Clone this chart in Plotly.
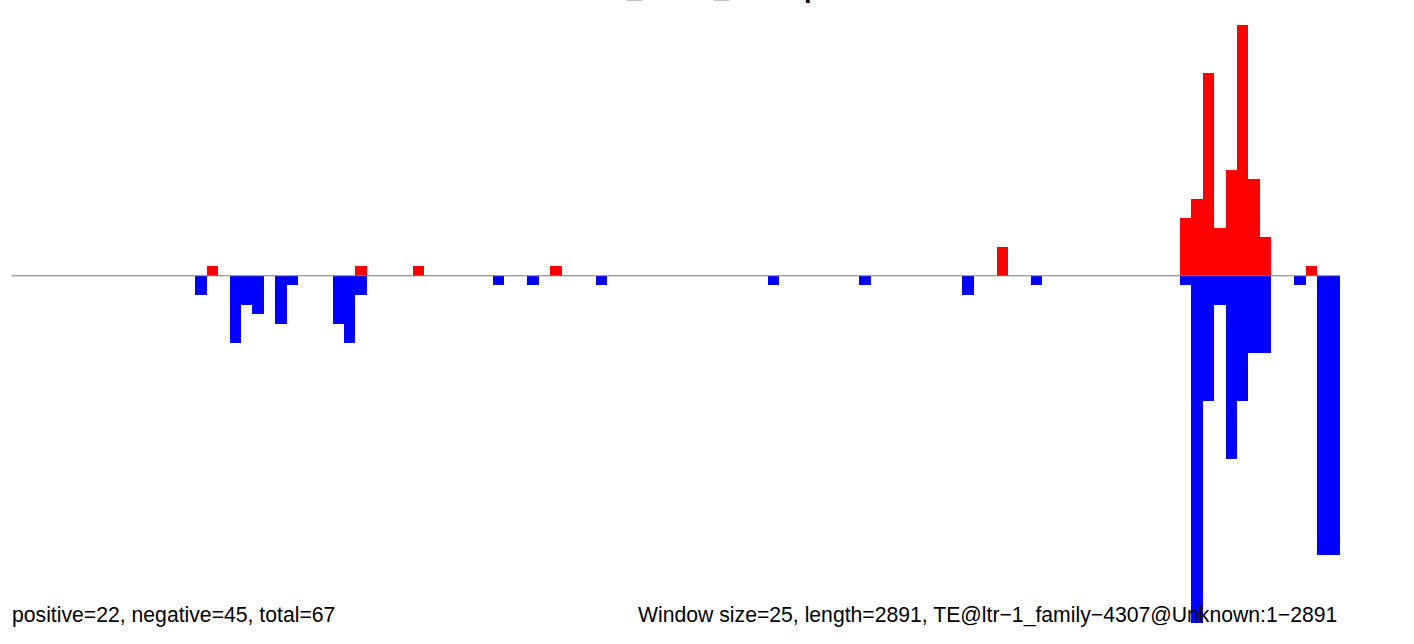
import plotly.graph_objects as go

# ---- data ----
window_size = 25
seq_length = 2891
n_windows = 116  # ceil(2891 / 25)

pos_windows = [17, 30, 35, 47, 86, 102, 103, 104, 105, 106, 107, 108, 109, 113]
pos_values = [1, 1, 1, 1, 3, 6, 8, 21, 5, 11, 26, 10, 4, 1]

neg_windows = [16, 19, 20, 21, 23, 24, 28, 29, 30, 42, 45, 51, 66, 74, 83, 89,
               102, 103, 104, 105, 106, 107, 108, 109, 112, 114, 115]
neg_values = [2, 7, 3, 4, 5, 1, 5, 7, 2, 1, 1, 1, 1, 1, 2, 1,
              1, 36, 13, 3, 19, 13, 8, 8, 1, 29, 29]

left_label = "positive=22, negative=45, total=67"
right_label = "Window size=25, length=2891, TE@ltr\u22121_family\u22124307@Unknown:1\u22122891"
title_text = "Control1_Small_Unmap"

# ---- figure ----
pos_x = [(w + 0.5) * window_size for w in pos_windows]
neg_x = [(w + 0.5) * window_size for w in neg_windows]
neg_y = [-v for v in neg_values]

fig = go.Figure()
fig.add_trace(go.Bar(x=neg_x, y=neg_y, width=window_size,
                     marker=dict(color="#0000FF", line=dict(width=0)),
                     showlegend=False, hoverinfo="skip"))
fig.add_trace(go.Bar(x=pos_x, y=pos_values, width=window_size,
                     marker=dict(color="#FF0000", line=dict(width=0)),
                     showlegend=False, hoverinfo="skip"))

x_max = n_windows * window_size

fig.add_shape(type="line", xref="x", yref="y", x0=0, x1=x_max, y0=0, y1=0,
              line=dict(color="#777777", width=1), layer="above")

font_family = "Liberation Sans, Arial, Helvetica, sans-serif"

fig.add_annotation(text=left_label, xref="paper", yref="paper",
                   x=-0.0015, y=0.013, xanchor="left", yanchor="middle",
                   showarrow=False, font=dict(family=font_family, size=21.2, color="#000000"))
fig.add_annotation(text=right_label, xref="paper", yref="paper",
                   x=0.9995, y=0.013, xanchor="right", yanchor="middle",
                   showarrow=False, font=dict(family=font_family, size=21.2, color="#000000"))
fig.add_annotation(text="<b>" + title_text + "</b>", xref="paper", yref="paper",
                   x=0.494, y=1.034, xanchor="center", yanchor="bottom",
                   showarrow=False, font=dict(family=font_family, size=27, color="#000000"))

fig.update_layout(
    width=1414, height=644,
    margin=dict(l=12, r=74, t=25, b=21, pad=0),
    paper_bgcolor="white", plot_bgcolor="white",
    barmode="overlay", bargap=0,
    xaxis=dict(range=[0, x_max], visible=False, showgrid=False, zeroline=False, fixedrange=True),
    yaxis=dict(range=[-36, 26], visible=False, showgrid=False, zeroline=False, fixedrange=True),
)

fig.write_html("out.html",
               config={"displayModeBar": False},
               post_script="document.body.style.margin='0px';document.body.style.overflow='hidden';")
